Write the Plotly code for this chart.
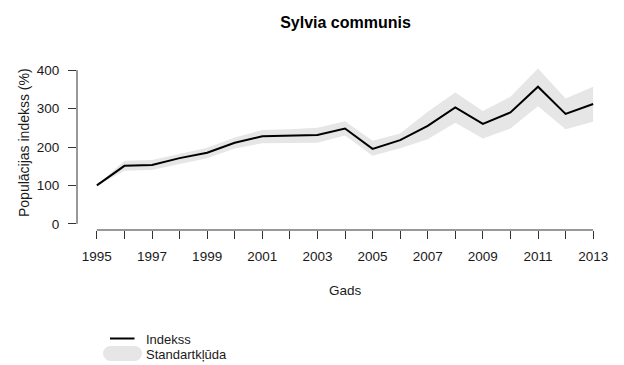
import plotly.graph_objects as go

years = list(range(1995, 2014))
index_vals = [100, 151, 153, 171, 185, 211, 228, 229, 231, 248, 195, 218, 255, 303, 260, 290, 357, 286, 312]
upper_vals = [100, 164, 166, 182, 198, 225, 244, 246, 250, 267, 216, 235, 292, 342, 294, 331, 404, 326, 357]
lower_vals = [100, 138, 140, 156, 171, 196, 210, 211, 211, 230, 177, 197, 220, 263, 222, 248, 306, 246, 266]
x_tick_labels = [str(y) if (y - 1995) % 2 == 0 else "" for y in years]
y_ticks = [0, 100, 200, 300, 400]

W, H = 624, 365
ML, MR, MT, MB = 77, 11, 64, 135
PW, PH = W - ML - MR, H - MT - MB
FONT = "Liberation Sans, Arial, sans-serif"
TXT = "#1a1a1a"
AX = "#333333"
BAND = "#E6E6E6"


def px(x):
    return (x - ML) / PW


def py(y):
    return (H - MB - y) / PH


fig = go.Figure()
fig.add_trace(go.Scatter(
    x=years + years[::-1], y=upper_vals + lower_vals[::-1],
    fill="toself", fillcolor=BAND, line=dict(width=0), mode="lines",
    hoverinfo="skip", showlegend=False))
fig.add_trace(go.Scatter(
    x=years, y=index_vals, mode="lines",
    line=dict(color="black", width=2), showlegend=False))

shapes = [
    dict(type="line", xref="x", yref="paper", x0=years[0], x1=years[-1], y0=0, y1=0,
         line=dict(color=AX, width=1)),
    dict(type="line", xref="paper", yref="y", x0=0, x1=0, y0=y_ticks[0], y1=y_ticks[-1],
         line=dict(color=AX, width=1)),
    # legend: line
    dict(type="line", xref="paper", yref="paper", x0=px(110), x1=px(134.5), y0=py(338.5), y1=py(338.5),
         line=dict(color="black", width=2)),
    # legend: band (rounded)
    dict(type="rect", xref="paper", yref="paper", x0=px(110.5), x1=px(134.5), y0=py(361), y1=py(346),
         fillcolor=BAND, line=dict(width=0)),
    dict(type="circle", xref="paper", yref="paper", x0=px(103), x1=px(118), y0=py(361), y1=py(346),
         fillcolor=BAND, line=dict(width=0)),
    dict(type="circle", xref="paper", yref="paper", x0=px(127), x1=px(142), y0=py(361), y1=py(346),
         fillcolor=BAND, line=dict(width=0)),
]

annotations = [
    dict(text="Populācijas indekss (%)", textangle=-90, xref="paper", yref="paper",
         x=px(24), y=py(143), showarrow=False, font=dict(size=14, color=TXT, family=FONT),
         xanchor="center", yanchor="middle"),
    dict(text="Gads", xref="paper", yref="paper", x=px(345.5), y=py(290), showarrow=False,
         font=dict(size=13.5, color=TXT, family=FONT), xanchor="center", yanchor="middle"),
    dict(text="Indekss", xref="paper", yref="paper", x=px(144), y=py(339.5), showarrow=False,
         font=dict(size=13, color=TXT, family=FONT), xanchor="left", yanchor="middle"),
    dict(text="Standartkļūda", xref="paper", yref="paper", x=px(144), y=py(354), showarrow=False,
         font=dict(size=13, color=TXT, family=FONT), xanchor="left", yanchor="middle"),
]

fig.update_layout(
    width=W, height=H,
    margin=dict(l=ML, r=MR, t=MT, b=MB, pad=0),
    paper_bgcolor="white", plot_bgcolor="white",
    title=dict(text="<b>Sylvia communis</b>", x=px(345.5), xref="paper", xanchor="center",
               y=1 - 22 / H, yref="container", yanchor="middle",
               font=dict(size=16, color="black", family=FONT)),
    xaxis=dict(range=[1994.28, 2013.72], tickvals=years, ticktext=x_tick_labels,
               showgrid=False, zeroline=False, showline=False,
               ticks="outside", ticklen=8, tickcolor=AX, tickwidth=1, ticklabelstandoff=6,
               tickfont=dict(size=13.5, color=TXT, family=FONT)),
    yaxis=dict(range=[-16, 416], tickvals=y_ticks, ticktext=[str(v) for v in y_ticks],
               showgrid=False, zeroline=False, showline=False,
               ticks="outside", ticklen=8, tickcolor=AX, tickwidth=1, ticklabelstandoff=6,
               tickfont=dict(size=13.5, color=TXT, family=FONT)),
    shapes=shapes, annotations=annotations,
    font=dict(family=FONT, color=TXT),
    showlegend=False,
)

fig.write_html("out.html", config={"displayModeBar": False},
               post_script="document.body.style.margin='0px';document.body.style.overflow='hidden';")
